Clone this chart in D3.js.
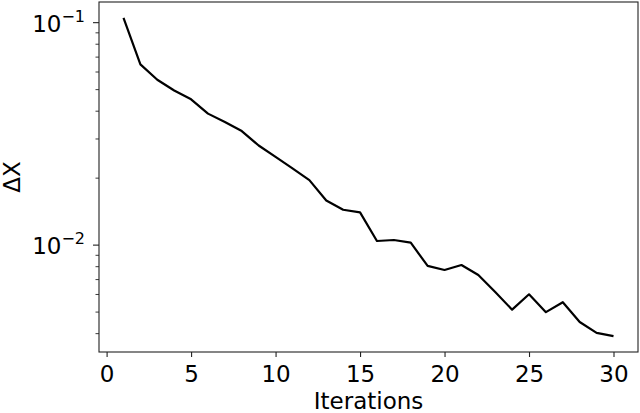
<!DOCTYPE html>
<html>
<head>
<meta charset="utf-8">
<script src="https://cdn.jsdelivr.net/npm/d3@7"></script>
<style>
  body { margin: 0; background: #fff; }
  text { font-family: "DejaVu Sans", sans-serif; fill: #000; }
</style>
</head>
<body>
<svg id="chart" width="640" height="413"></svg>
<script>
// Data
const iterations = [1, 2, 3, 4, 5, 6, 7, 8, 9, 10, 11, 12, 13, 14, 15,
                    16, 17, 18, 19, 20, 21, 22, 23, 24, 25, 26, 27, 28, 29, 30];
const deltaX = [0.1045, 0.0646, 0.0551, 0.0493, 0.0450, 0.0388, 0.0356, 0.0324, 0.0279, 0.0248,
                0.0220, 0.0195, 0.0158, 0.01435, 0.01396, 0.01038, 0.01049, 0.0102, 0.00802, 0.00769,
                0.00810, 0.00730, 0.00612, 0.00510, 0.00598, 0.00497, 0.00551, 0.00449, 0.00401, 0.00388];
const xTicks = [0, 5, 10, 15, 20, 25, 30];
const yMajorTicks = [1e-1, 1e-2];
const yMajorExp = ['−1', '−2'];
const yMinorTicks = [2e-3, 3e-3, 4e-3, 5e-3, 6e-3, 7e-3, 8e-3, 9e-3,
                     2e-2, 3e-2, 4e-2, 5e-2, 6e-2, 7e-2, 8e-2, 9e-2];

const svg = d3.select('#chart');
const margin = { top: 2, right: 2, bottom: 61, left: 99 };
const width = +svg.attr('width') - margin.left - margin.right;
const height = +svg.attr('height') - margin.top - margin.bottom;

// matplotlib-style 5% padding (log space for y)
const xPad = (d3.max(iterations) - d3.min(iterations)) * 0.05;
const xScale = d3.scaleLinear()
    .domain([d3.min(iterations) - xPad, d3.max(iterations) + xPad])
    .range([0, width]);

const lo = Math.log10(d3.min(deltaX));
const hi = Math.log10(d3.max(deltaX));
const yPad = (hi - lo) * 0.05;
const yScale = d3.scaleLog()
    .domain([Math.pow(10, lo - yPad), Math.pow(10, hi + yPad)])
    .range([height, 0]);
const [yMin, yMax] = yScale.domain();

const g = svg.append('g')
    .attr('transform', `translate(${margin.left},${margin.top})`);

// x axis
const xAxis = g.append('g')
    .attr('transform', `translate(0,${height})`)
    .call(d3.axisBottom(xScale).tickValues(xTicks).tickSize(5).tickFormat(d3.format('d')));
xAxis.select('.domain').remove();
xAxis.selectAll('line').attr('stroke', '#222').attr('stroke-width', 1.1);
xAxis.selectAll('text')
    .attr('y', 29.5)
    .attr('dy', 0)
    .attr('fill', '#000')
    .style('font-size', '23px');

// y axis minor ticks (only those inside the view)
const yMinor = g.append('g')
    .call(d3.axisLeft(yScale)
        .tickValues(yMinorTicks.filter(v => v >= yMin && v <= yMax))
        .tickSize(3.5).tickFormat(''));
yMinor.select('.domain').remove();
yMinor.selectAll('line').attr('stroke', '#222').attr('stroke-width', 0.9);

// y axis major ticks
const yAxis = g.append('g')
    .call(d3.axisLeft(yScale).tickValues(yMajorTicks).tickSize(6).tickFormat(''));
yAxis.select('.domain').remove();
yAxis.selectAll('line').attr('stroke', '#222').attr('stroke-width', 1.1);

yAxis.selectAll('.tick').each(function (d, i) {
    const t = d3.select(this).append('text')
        .attr('x', -14)
        .attr('y', 9.3)
        .attr('text-anchor', 'end')
        .attr('fill', '#000')
        .style('font-size', '23px');
    t.append('tspan').text('10');
    t.append('tspan')
        .attr('dy', -10)
        .style('font-size', '16px')
        .text(yMajorExp[i]);
});

// spines
g.append('rect')
    .attr('width', width)
    .attr('height', height)
    .attr('fill', 'none')
    .attr('stroke', '#222')
    .attr('stroke-width', 1.1);

// series line
const line = d3.line()
    .x((d, i) => xScale(iterations[i]))
    .y(d => yScale(d));

g.append('path')
    .datum(deltaX)
    .attr('fill', 'none')
    .attr('stroke', '#000')
    .attr('stroke-width', 2.2)
    .attr('stroke-linejoin', 'round')
    .attr('d', line);

// axis labels
svg.append('text')
    .attr('x', margin.left + width / 2)
    .attr('y', 409)
    .attr('text-anchor', 'middle')
    .style('font-size', '23px')
    .text('Iterations');

svg.append('text')
    .attr('transform', `translate(19.5,${margin.top + height / 2}) rotate(-90)`)
    .attr('text-anchor', 'middle')
    .style('font-size', '23px')
    .text('ΔX');
</script>
</body>
</html>
